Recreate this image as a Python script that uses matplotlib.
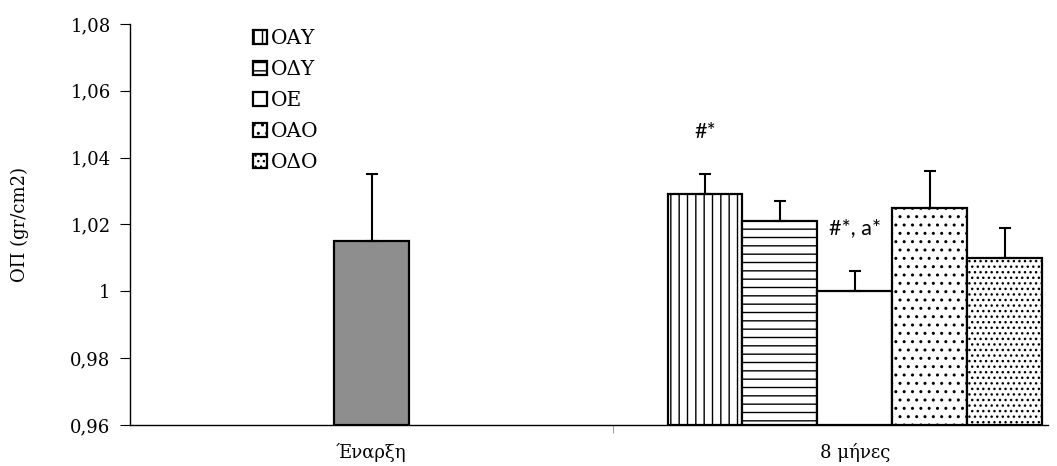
import numpy as np
import matplotlib
matplotlib.use("Agg")
import matplotlib.pyplot as plt
from matplotlib.patches import Patch

plt.rcParams['font.family'] = ['DejaVu Serif', 'Liberation Serif']
plt.rcParams['hatch.linewidth'] = 1.0

# ---- data ----
categories = ["Έναρξη", "8 μήνες"]
groups = ["ΟΑΥ", "ΟΔΥ", "ΟΕ", "ΟΑΟ", "ΟΔΟ"]
start_value = 1.015
start_err = 0.020
month8_values = [1.029, 1.021, 1.000, 1.025, 1.010]
month8_err = [0.006, 0.006, 0.006, 0.011, 0.009]
yticks = [0.96, 0.98, 1.00, 1.02, 1.04, 1.06, 1.08]
ytick_labels = ["0,96", "0,98", "1", "1,02", "1,04", "1,06", "1,08"]
annot_texts = ["#*", "#*, a*"]
annot_groups = [0, 2]
annot_y = [1.0477, 1.019]

# ---- styling ----
hatches = ['||', '--', '', '..', '...']
ymin, ymax = 0.96, 1.08
width = 0.155

fig = plt.figure(figsize=(10.57, 4.66), dpi=100)
ax = fig.add_axes([0.123, 0.088, 0.8685, 0.8605])

# baseline bar
ax.bar(0, start_value - ymin, bottom=ymin, width=width, facecolor='#8e8e8e',
       edgecolor='black', linewidth=1.6, zorder=2)
ax.errorbar(0, start_value, yerr=[[0], [start_err]], fmt='none', ecolor='black',
            elinewidth=1.5, capsize=4, capthick=1.5, zorder=3)

# 8-month group
offsets = (np.arange(len(groups)) - (len(groups) - 1) / 2) * width
xs = 1 + offsets
for x, v, e, h in zip(xs, month8_values, month8_err, hatches):
    ax.bar(x, v - ymin, bottom=ymin, width=width, facecolor='white',
           edgecolor='black', linewidth=1.6, hatch=h, zorder=2)
    ax.errorbar(x, v, yerr=[[0], [e]], fmt='none', ecolor='black',
                elinewidth=1.5, capsize=4, capthick=1.5, zorder=3)

for t, g, y in zip(annot_texts, annot_groups, annot_y):
    ax.text(xs[g], y, t, ha='center', va='center', fontsize=15.5,
            family=['Lato', 'DejaVu Sans'])

ax.set_xlim(-0.5, 1.4)
ax.set_ylim(ymin, ymax)
ax.set_yticks(yticks)
ax.set_yticklabels(ytick_labels, fontsize=13)
ax.set_xticks([0, 1])
ax.set_xticklabels(categories, fontsize=13)
ax.set_xticks([0.5], minor=True)
ax.tick_params(axis='x', which='major', length=0, pad=13)
ax.tick_params(axis='x', which='minor', length=6, color='#888888', direction='out')
ax.tick_params(axis='y', length=7, width=0.8, direction='out', pad=7)
ax.set_ylabel("ΟΠ (gr/cm2)", fontsize=13, labelpad=30)

for s in ['top', 'right']:
    ax.spines[s].set_visible(False)
ax.spines['left'].set_linewidth(1.0)
ax.spines['bottom'].set_linewidth(1.0)

handles = [Patch(facecolor='white', edgecolor='black', linewidth=1.6, hatch=h)
           for h in hatches]
leg = ax.legend(handles, groups, loc='upper left', bbox_to_anchor=(0.1247, 1.008),
                frameon=False, fontsize=14.5, handlelength=0.7, handleheight=0.7,
                handletextpad=0.2, labelspacing=0.6, borderaxespad=0)

fig.savefig("out.png", dpi=100)
